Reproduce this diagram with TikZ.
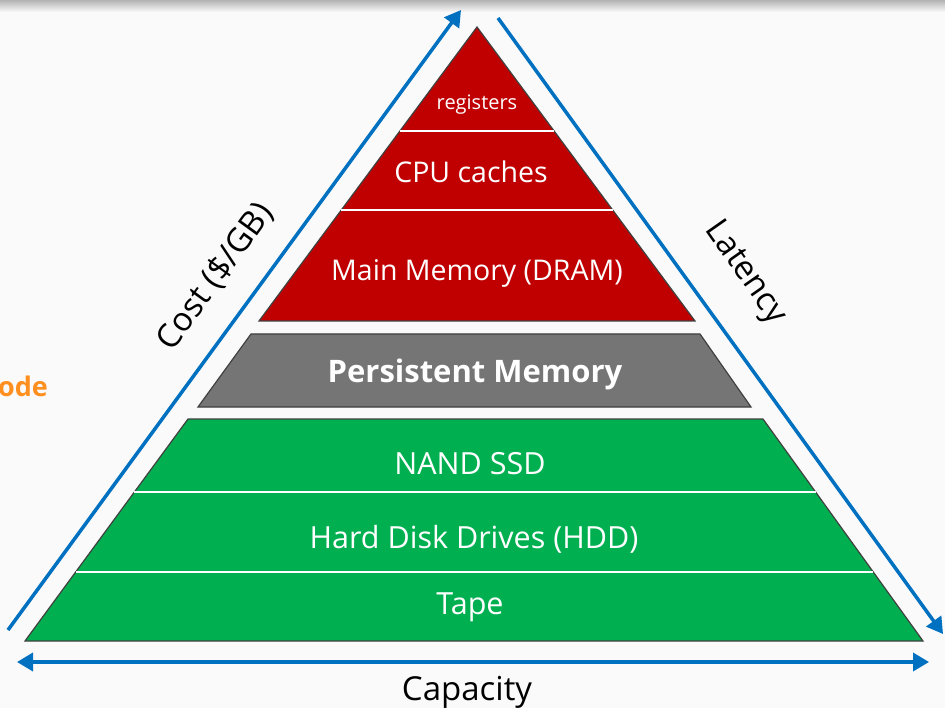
\documentclass[tikz,border=0pt]{standalone}
\usepackage{fontspec}
\setmainfont{Open Sans}
\usetikzlibrary{arrows.meta}
\definecolor{memred}{HTML}{C00000}
\definecolor{pmgray}{HTML}{757575}
\definecolor{stogreen}{HTML}{00B050}
\definecolor{axblue}{HTML}{0070C0}
\definecolor{bgwhite}{HTML}{FAFAFA}
\definecolor{odeorange}{HTML}{FF8F1F}
\tikzset{
  layer/.style = {draw=black!75, line width=1.2pt},
  split/.style = {draw=white, line width=1.6pt},
  lyr_txt/.style = {text=white, inner sep=0pt, anchor=base,
    font=\fontsize{28.5}{30}\selectfont},
  sto_txt/.style = {lyr_txt, font=\fontsize{30.5}{32}\selectfont},
  ax_txt/.style = {inner sep=0pt, font=\fontsize{33}{36}\selectfont},
  axis/.style = {draw=axblue, line width=3.5pt}}

\begin{document}
\begin{tikzpicture}[x=1pt,y=-1pt,>={Triangle[length=16pt,width=18pt]}]
 \fill[bgwhite] (0,0) rectangle (945,708);
 \shade[top color=black!30, bottom color=bgwhite] (0,0) rectangle (945,12);
 \useasboundingbox (0,0) rectangle (945,708);

 % memory, persistent memory, storage
 \filldraw[layer, fill=memred] (477,27) -- (695,321) -- (259,321) -- cycle;
 \draw[split] (400,131) -- (554,131);
 \draw[split] (341,210) -- (613,210);
 \filldraw[layer, fill=pmgray] (251,334) -- (700,334) -- (751,407) -- (198,407) -- cycle;
 \filldraw[layer, fill=stogreen] (188,419) -- (763,419) -- (923,641) -- (25,641) -- cycle;
 \draw[split] (134,492) -- (816,492);
 \draw[split] (76,572) -- (873,572);

 \node [lyr_txt, font=\fontsize{20}{24}\selectfont] (reg) at (477,110) {registers};
 \node [lyr_txt] (cache) at (471,183) {CPU caches};
 \node [lyr_txt] (dram) at (477,281) {Main Memory (DRAM)};
 \node [lyr_txt, font=\fontsize{31}{33}\selectfont\bfseries] (pmem) at (475,383) {Persistent Memory};
 \node [sto_txt] (ssd) at (470,474) {NAND SSD};
 \node [sto_txt] (hdd) at (474,548) {Hard Disk Drives (HDD)};
 \node [sto_txt] (tape) at (470,614) {Tape};

 \node [inner sep=0pt, anchor=base east, text=odeorange,
   font=\fontsize{27}{30}\selectfont\bfseries] (ode) at (48,396) {ode};

 % axes
 \coordinate (cost_s) at (8,630);
 \coordinate (cost_e) at (461,10);
 \draw[axis,->] (cost_s) -- (cost_e);
 \coordinate (lat_s) at (498,18);
 \coordinate (lat_e) at (943,634);
 \draw[axis,->] (lat_s) -- (lat_e);
 \coordinate (cap_w) at (17,662);
 \coordinate (cap_e) at (929,662);
 \draw[axis,<->] (cap_w) -- (cap_e);

 \node [ax_txt, rotate=54] (cost) at (215,277) {Cost (\$/GB)};
 \node [ax_txt, rotate=-55] (lat) at (745,273) {Latency};
 \node [ax_txt, anchor=base] (cap) at (467,700) {Capacity};
\end{tikzpicture}
\end{document}
